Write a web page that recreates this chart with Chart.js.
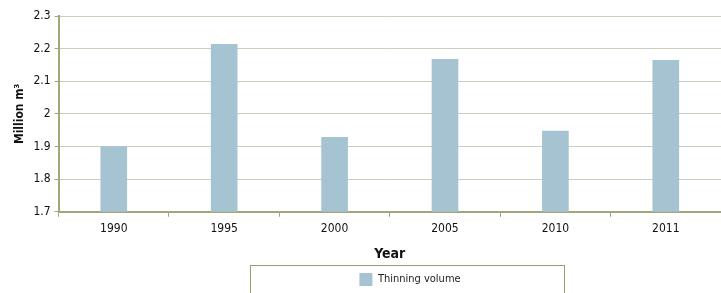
<!DOCTYPE html>
<html>
<head>
<meta charset="utf-8">
<script src="https://cdn.jsdelivr.net/npm/chart.js@4"></script>
<style>
  body { margin: 0; background: #fff; }
  #wrap { width: 721px; height: 293px; }
</style>
</head>
<body>
<div id="wrap"><canvas id="thinningChart" width="721" height="293"></canvas></div>
<script>
const years = ['1990', '1995', '2000', '2005', '2010', '2011'];
const thinningVolume = [1.9, 2.213, 1.928, 2.167, 1.947, 2.164];
const yTicks = [1.7, 1.8, 1.9, 2, 2.1, 2.2, 2.3];

const axisColor = 'rgb(160,168,122)';
const font = "'DejaVu Sans Condensed', 'DejaVu Sans', sans-serif";

// shift the legend to the right/down and draw the frame around it
const legendBox = {
  id: 'legendBox',
  afterLayout(chart) {
    chart.legend.left += 43;
    chart.legend.right += 43;
    chart.legend.top += 3;
    chart.legend.bottom += 3;
  },
  afterDraw(chart) {
    const ctx = chart.ctx;
    ctx.save();
    ctx.strokeStyle = 'rgb(150,158,112)';
    ctx.lineWidth = 1;
    ctx.strokeRect(250.5, 265.5, 314, 40);
    ctx.restore();
  }
};

const ctx = document.getElementById('thinningChart').getContext('2d');
const chart = new Chart(ctx, {
  type: 'bar',
  data: {
    labels: years,
    datasets: [{
      label: 'Thinning volume',
      data: thinningVolume,
      backgroundColor: 'rgb(166,195,210)',
      borderWidth: 0,
      barThickness: 26
    }]
  },
  options: {
    responsive: false,
    animation: false,
    layout: { padding: { top: 16, right: 0, left: 13, bottom: 0 } },
    plugins: {
      legend: {
        position: 'bottom',
        labels: {
          boxWidth: 13,
          boxHeight: 13,
          padding: 3,
          color: '#222',
          font: { family: font, size: 11 }
        }
      },
      tooltip: { enabled: false }
    },
    scales: {
      x: {
        offset: true,
        grid: {
          offset: true,
          drawOnChartArea: false,
          drawTicks: true,
          tickLength: 5,
          color: axisColor,
          lineWidth: 1
        },
        border: { color: axisColor, width: 2 },
        ticks: {
          color: '#111',
          padding: 5,
          font: { family: font, size: 12 }
        },
        title: {
          display: true,
          text: 'Year',
          color: '#111',
          padding: { top: 5, bottom: 4 },
          font: { family: font, size: 14, weight: 'bold' }
        }
      },
      y: {
        min: 1.7,
        max: 2.3,
        afterBuildTicks(axis) {
          axis.ticks = yTicks.map(v => ({ value: v }));
        },
        grid: {
          color: 'rgb(205,205,190)',
          borderDash: [1, 1],
          tickBorderDash: [],
          tickColor: axisColor,
          tickLength: 4,
          lineWidth: 1
        },
        border: { color: axisColor, width: 2 },
        ticks: {
          color: '#111',
          padding: 4,
          font: { family: font, size: 12 },
          callback: v => String(Math.round(v * 10) / 10)
        },
        title: {
          display: true,
          text: 'Million m³',
          color: '#111',
          padding: { top: 0, bottom: 2 },
          font: { family: font, size: 12, weight: 'bold' }
        }
      }
    }
  },
  plugins: [legendBox]
});
</script>
</body>
</html>
